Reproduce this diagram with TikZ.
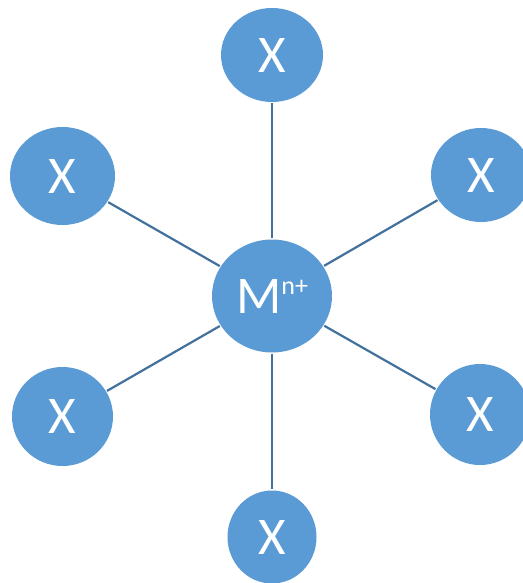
\documentclass[tikz,border=0pt]{standalone}
\usepackage{fontspec}
\setmainfont{Carlito}
\usepackage{tikz}
\usetikzlibrary{shapes.geometric}
\definecolor{ionfill}{RGB}{91,155,213}
\definecolor{bondline}{RGB}{65,113,156}

\begin{document}
\begin{tikzpicture}[x=1pt,y=-1pt,line width=2.2pt]
		\tikzstyle{every node}=[ellipse,fill=ionfill,text=white,inner sep=0pt,
		font=\fontsize{53}{53}\selectfont]
		\tikzstyle{bond}=[draw=bondline]
		\useasboundingbox (0,0) rectangle (522,583);
		
		\node[minimum width=120,minimum height=113] (M)  at (272,296) {M\raisebox{19pt}{\fontsize{26}{26}\selectfont n+}};
		\node[minimum width=102,minimum height=94]  (T)  at (272,55)  {X};
		\node[minimum width=105,minimum height=98]  (UL) at (62.5,176) {X};
		\node[minimum width=100,minimum height=94]  (UR) at (481,175) {X};
		\node[minimum width=101,minimum height=99]  (LL) at (62.5,416.5) {X};
		\node[minimum width=100,minimum height=101] (LR) at (480,414.5) {X};
		\node[minimum width=89,minimum height=93]   (B)  at (272,537) {X};
		
		\path[bond] (M) -- (T);
		\path[bond] (M) -- (UL);
		\path[bond] (M) -- (UR);
		\path[bond] (M) -- (LL);
		\path[bond] (M) -- (LR);
		\path[bond] (M) -- (B);
\end{tikzpicture}
\end{document}
